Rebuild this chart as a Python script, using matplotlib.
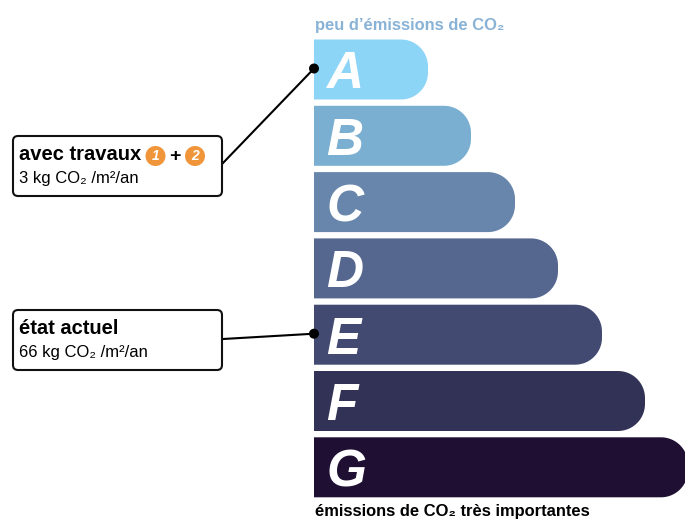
import matplotlib
matplotlib.use("Agg")
import matplotlib.pyplot as plt
import numpy as np
from matplotlib.patches import FancyBboxPatch, Circle, Polygon

# energy label classes
classes = ["A", "B", "C", "D", "E", "F", "G"]
bar_right = [428, 471, 515, 558, 602, 645, 688]   # right end of each bar (px)
colors = ["#8DD5F7", "#7AAFD1", "#6886AB", "#55668F", "#434A72", "#323256", "#1F1033"]

top_label = "peu d\u2019émissions de CO\u2082"
bottom_label = "émissions de CO\u2082 très importantes"

# callouts: title, value line, class it points to
callouts = [
    ("avec travaux", "3 kg CO\u2082 /m\u00b2/an", "A"),
    ("état actuel", "66 kg CO\u2082 /m\u00b2/an", "E"),
]

plt.rcParams['font.family'] = ['Liberation Sans', 'DejaVu Sans']

fig = plt.figure(figsize=(6.85, 5.22), dpi=100)
ax = fig.add_axes([0, 0, 1, 1])
ax.set_xlim(0, 685)
ax.set_ylim(522, 0)
ax.axis('off')

x0 = 314
bar_h = 60
step = 66.3
top0 = 39.5
r = 27


def tab_shape(left, top, right, h, rad):
    # square on the left, rounded corners on the right
    t1 = np.linspace(-np.pi / 2, 0, 20)
    t2 = np.linspace(0, np.pi / 2, 20)
    cx = right - rad
    pts = [(left, top)]
    pts += [(cx + rad * np.cos(t), top + rad + rad * np.sin(t)) for t in t1]
    pts += [(cx + rad * np.cos(t), top + h - rad + rad * np.sin(t)) for t in t2]
    pts += [(left, top + h)]
    return pts


bar_tops = {}
for i, (c, right, col) in enumerate(zip(classes, bar_right, colors)):
    top = top0 + i * step
    bar_tops[c] = top
    ax.add_patch(Polygon(tab_shape(x0, top, right, bar_h, r), closed=True,
                         facecolor=col, edgecolor='none'))
    ax.text(x0 + 12, top + bar_h / 2 + 19, c, color='white', fontsize=37,
            fontweight='bold', fontstyle='italic', va='baseline', ha='left')

ax.text(x0 + 1, 30, top_label, color='#88B2D6', fontsize=11.9, fontweight='bold',
        va='baseline', ha='left')
ax.text(x0 + 1, 516, bottom_label, color='black', fontsize=11.9, fontweight='bold',
        va='baseline', ha='left')

# callout boxes
box_tops = [136, 310]
box_l, box_r, box_h = 13, 222, 60
for (title, value, cls), btop in zip(callouts, box_tops):
    ax.add_patch(FancyBboxPatch((box_l, btop), box_r - box_l, box_h,
                                boxstyle="round,pad=0,rounding_size=5",
                                facecolor='white', edgecolor='#111111', linewidth=1.5, zorder=3))
    ax.text(19, btop + 24, title, fontsize=14.5, fontweight='bold', color='black',
            va='baseline', ha='left', zorder=4)
    ax.text(19, btop + 47, value, fontsize=12, color='black',
            va='baseline', ha='left', zorder=4)
    ty = bar_tops[cls] + bar_h / 2 - 1
    y_start = btop + 27 if cls == "A" else btop + 29
    ax.plot([box_r + 1, x0], [y_start, ty], color='black', linewidth=1.5, zorder=2)
    ax.add_patch(Circle((x0, ty), 5, facecolor='black', edgecolor='none', zorder=5))

# work step badges in first box
for num, cx in [("1", 155.5), ("2", 195)]:
    ax.add_patch(Circle((cx, 156), 10, facecolor='#F0953A', edgecolor='none', zorder=5))
    ax.text(cx, 156.5, num, color='white', fontsize=10, fontweight='bold', fontstyle='italic',
            ha='center', va='center', zorder=6)
ax.text(175, 161, "+", fontsize=14, fontweight='bold', color='black',
        ha='center', va='baseline', zorder=6)

fig.savefig("out.png", dpi=100)
